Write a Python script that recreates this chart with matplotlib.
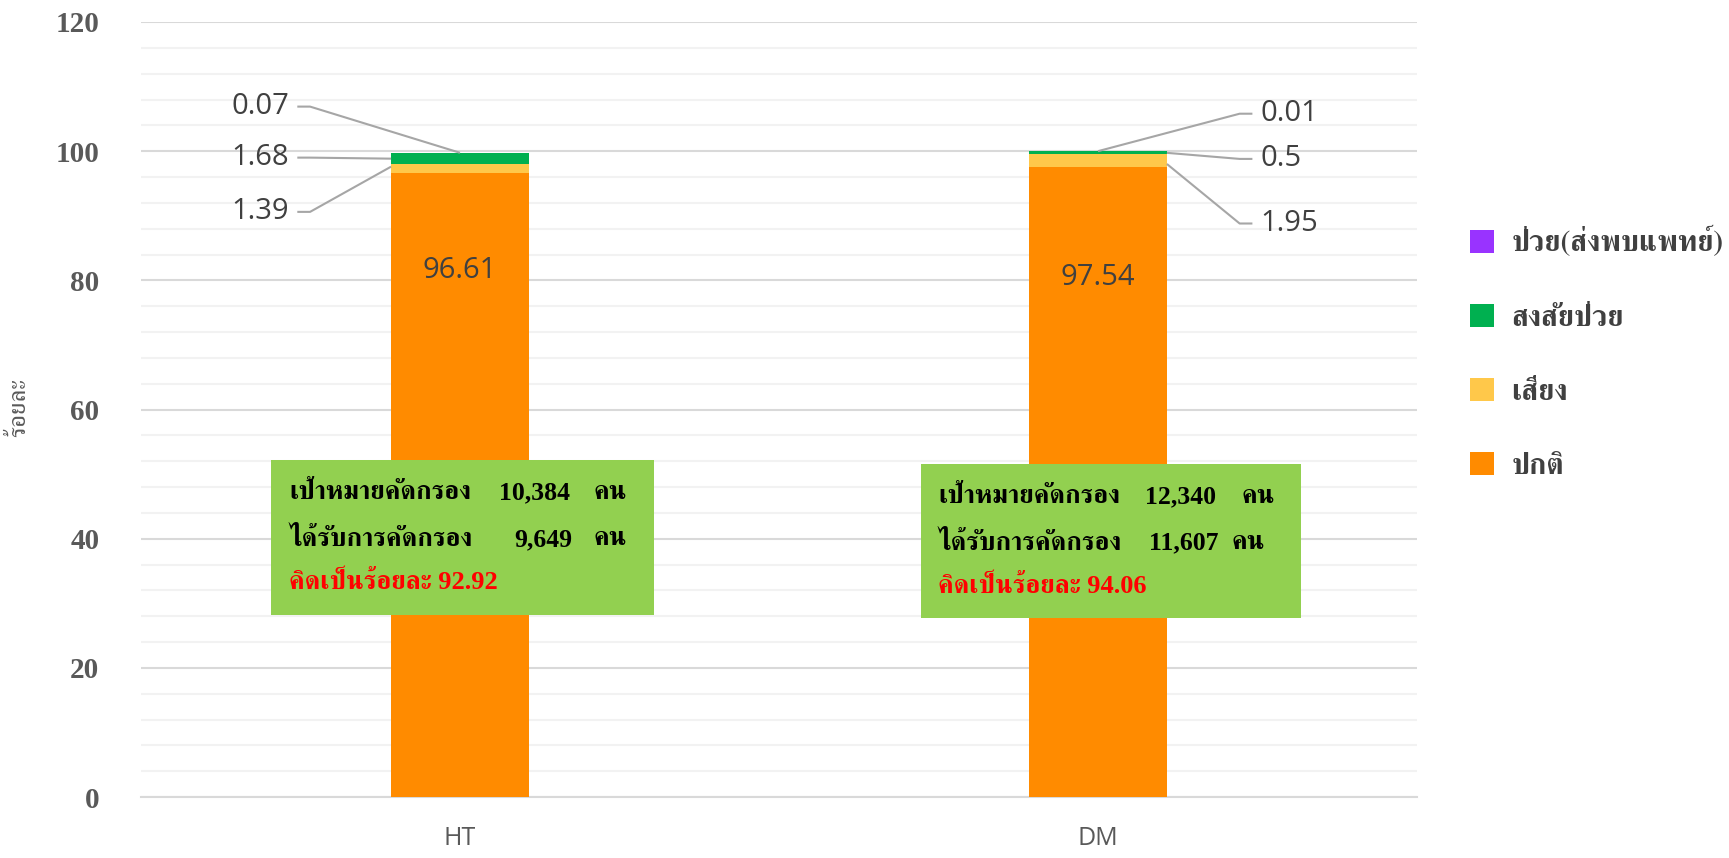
import matplotlib
matplotlib.use("Agg")
import matplotlib.pyplot as plt
from matplotlib import font_manager
from matplotlib.patches import Rectangle
import numpy as np

# ---------------- data ----------------
categories = ["HT", "DM"]
series_names = ["ปกติ", "เสี่ยง", "สงสัยป่วย", "ป่วย(ส่งพบแพทย์)"]
normal = [96.61, 97.54]
risk = [1.39, 1.95]
suspect = [1.68, 0.5]
sick = [0.07, 0.01]
target = ["10,384", "12,340"]
screened = ["9,649", "11,607"]
percent = ["92.92", "94.06"]
y_ticks = [0, 20, 40, 60, 80, 100, 120]
y_label = "ร้อยละ"

colors = ["#FF8B00", "#FFC84A", "#00B050", "#9933FF"]

# ---------------- fonts ----------------
serif_family = ["Liberation Serif", "FreeSerif", "DejaVu Serif"]
thai_serif = ["FreeSerif", "DejaVu Serif"]
sans_family = ["Open Sans", "Noto Sans Thai Looped", "DejaVu Sans"]
narrow_family = ["Liberation Sans Narrow", "Open Sans", "DejaVu Sans"]
plt.rcParams["font.family"] = sans_family

fig = plt.figure(figsize=(17.29, 8.58), dpi=100)
ax = fig.add_axes([141/1729, 1-797/858, (1417-141)/1729, (797-22)/858])

x = np.arange(len(categories))
width = 0.216
bottom = np.zeros(len(categories))
stack = [normal, risk, suspect, sick]
tops = []
for vals, col, name in zip(stack, colors, series_names):
    ax.bar(x, vals, width, bottom=bottom, color=col, label=name, zorder=3)
    bottom = bottom + np.array(vals)
    tops.append(bottom.copy())

ax.set_xlim(-0.5, 1.5)
ax.set_ylim(0, 120)
ax.set_yticks(y_ticks)
ax.set_yticks(np.arange(0, 121, 4), minor=True)
ax.grid(axis="y", which="minor", color="#F2F2F2", lw=1.5, zorder=0)
ax.grid(axis="y", which="major", color="#D9D9D9", lw=1.5, zorder=0)
ax.tick_params(axis="y", which="both", length=0, pad=30)
ax.tick_params(axis="x", length=0, pad=21)
for s in ["top", "right", "left"]:
    ax.spines[s].set_visible(False)
ax.spines["bottom"].set_color("#D9D9D9")
ax.spines["bottom"].set_linewidth(1.5)
ax.set_xticks(x)
ax.set_xticklabels(categories, fontsize=18, color="#595959", family=narrow_family)
for lab in ax.get_yticklabels():
    lab.set_family(serif_family)
    lab.set_fontweight("bold")
    lab.set_fontsize(21)
    lab.set_color("#595959")
fig.text(0.011, 0.525, y_label, rotation=90, fontsize=18, color="#595959",
         ha="center", va="center", family=thai_serif)

# ---------------- data labels ----------------
lab_kw = dict(fontsize=21, color="#404040", family=sans_family, va="center", zorder=6)
line_kw = dict(color="#A6A6A6", lw=1.5, zorder=5, solid_capstyle="butt")

ax.text(x[0], 81.6, f"{normal[0]:g}", ha="center", **lab_kw)
ax.text(x[1], 80.4, f"{normal[1]:g}", ha="center", **lab_kw)

hw = width / 2
i = 0
ht_lab = [(sick[i], 106.9, (x[i], tops[3][i])),
          (suspect[i], 99.0, (x[i] - hw, tops[1][i] + suspect[i] / 2)),
          (risk[i], 90.6, (x[i] - hw, normal[i] + risk[i] / 2 + 0.3))]
for v, ly, (px, py) in ht_lab:
    ax.text(-0.268, ly, f"{v:g}", ha="right", **lab_kw)
    ax.plot([-0.255, -0.235, px], [ly, ly, py], **line_kw)

i = 1
dm_lab = [(sick[i], 105.8, (x[i], tops[3][i])),
          (suspect[i], 98.8, (x[i] + hw, tops[2][i] - suspect[i] / 2)),
          (risk[i], 88.8, (x[i] + hw, normal[i] + risk[i] / 2 - 0.5))]
for v, ly, (px, py) in dm_lab:
    ax.text(1.255, ly, f"{v:g}", ha="left", **lab_kw)
    ax.plot([1.242, 1.222, px], [ly, ly, py], **line_kw)

# ---------------- info boxes ----------------
boxes = [(-0.296, 0.304, 28.2, 52.2), (0.722, 1.318, 27.7, 51.6)]
num_right = [(0.468, 0.472), (0.463, 0.467)]
unit_left = [(0.505, 0.505), (0.503, 0.488)]
thai_kw = dict(fontsize=19, fontweight="bold", family=thai_serif, va="center", zorder=8)
num_kw = dict(fontsize=18.5, fontweight="bold", family=serif_family, va="center", zorder=8)
for i, (x0, x1, y0, y1) in enumerate(boxes):
    ax.add_patch(Rectangle((x0, y0), x1 - x0, y1 - y0, facecolor="#92D050",
                           edgecolor="none", zorder=7))
    tx = x0 + 0.028
    r1, r2, r3 = y1 - 5.1, y1 - 12.3, y1 - 18.9
    ax.text(tx, r1, "เป้าหมายคัดกรอง", color="black", ha="left", **thai_kw)
    ax.text(x0 + num_right[i][0], r1, target[i], color="black", ha="right", **num_kw)
    ax.text(x0 + unit_left[i][0], r1, "คน", color="black", ha="left", **thai_kw)
    ax.text(tx, r2, "ได้รับการคัดกรอง", color="black", ha="left", **thai_kw)
    ax.text(x0 + num_right[i][1], r2, screened[i], color="black", ha="right", **num_kw)
    ax.text(x0 + unit_left[i][1], r2, "คน", color="black", ha="left", **thai_kw)
    ax.text(tx, r3, "คิดเป็นร้อยละ " + percent[i], color="#FF0000", ha="left",
            fontsize=19, fontweight="bold", family=serif_family, va="center", zorder=8)

# ---------------- legend ----------------
handles, labels = ax.get_legend_handles_labels()
leg = fig.legend(handles[::-1], labels[::-1], loc="center left",
                 bbox_to_anchor=(1470/1729, 1 - 353/858), frameon=False,
                 prop=font_manager.FontProperties(family=thai_serif, weight="bold", size=21),
                 labelspacing=1.6, handlelength=0.82, handleheight=0.82,
                 handletextpad=0.6, borderpad=0, borderaxespad=0)
for t in leg.get_texts():
    t.set_color("#404040")

fig.savefig("out.png", dpi=100)
